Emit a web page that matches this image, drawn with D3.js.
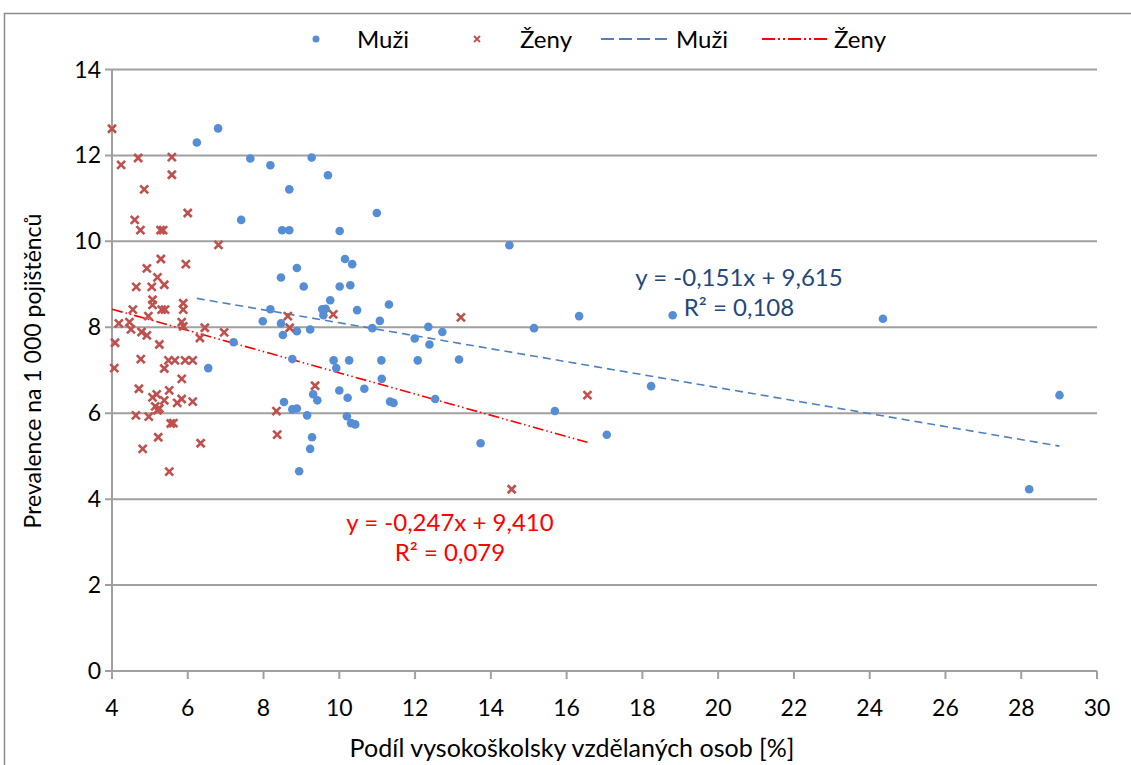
<!DOCTYPE html>
<html>
<head>
<meta charset="utf-8">
<script src="https://cdn.jsdelivr.net/npm/d3@7"></script>
<style>
  body { margin: 0; background: #fff; }
  svg text { font-family: Lato, "Open Sans", sans-serif; }
</style>
</head>
<body>
<svg id="chart" width="1131" height="765"></svg>
<script>
// men: share of university educated [%] and prevalence per 1000
const menX = [6.24, 6.80, 7.65, 8.18, 9.27, 9.70, 8.68, 7.41, 8.49, 8.68, 10.01, 10.99, 10.15, 10.34,
  8.88, 8.46, 9.06, 10.01, 10.29, 9.76, 9.55, 9.64, 9.58, 10.47, 11.31, 8.18, 7.98, 11.07, 8.46,
  8.88, 9.23, 8.51, 10.87, 12.35, 12.72, 11.99, 12.38, 7.21, 6.54, 8.76, 9.85, 10.26, 11.11, 12.07,
  13.16, 9.92, 11.12, 10.66, 10.00, 10.22, 9.31, 9.42, 12.53, 11.34, 11.43, 8.54, 8.76, 8.88, 9.15,
  10.20, 10.31, 10.42, 9.28, 9.23, 8.94, 13.73, 14.49, 16.33, 18.80, 15.14, 18.23, 15.69, 17.06,
  24.35, 29.01, 28.21];
const menY = [12.30, 12.63, 11.93, 11.77, 11.95, 11.54, 11.21, 10.50, 10.26, 10.26, 10.24, 10.66, 9.59, 9.47,
  9.38, 9.16, 8.95, 8.95, 8.98, 8.63, 8.42, 8.43, 8.28, 8.40, 8.53, 8.42, 8.14, 8.15, 8.09,
  7.91, 7.95, 7.82, 7.98, 8.01, 7.89, 7.74, 7.60, 7.65, 7.05, 7.26, 7.23, 7.23, 7.23, 7.23,
  7.25, 7.05, 6.80, 6.57, 6.53, 6.36, 6.44, 6.30, 6.33, 6.27, 6.24, 6.26, 6.09, 6.11, 5.95,
  5.93, 5.77, 5.74, 5.44, 5.17, 4.65, 5.30, 9.91, 8.26, 8.28, 7.98, 6.63, 6.05, 5.50,
  8.20, 6.42, 4.23];

// women
const womenX = [4.00, 4.24, 4.69, 5.58, 5.58, 4.85, 6.00, 4.60, 4.75, 5.28, 5.35, 6.81, 5.29, 4.92,
  5.95, 5.20, 4.64, 5.05, 5.38, 5.07, 5.07, 4.55, 5.31, 5.40, 5.88, 5.88, 4.96, 4.18, 4.46, 4.50,
  4.78, 4.92, 5.84, 5.88, 6.45, 6.96, 6.32, 4.08, 5.25, 4.76, 5.49, 5.66, 5.93, 6.13, 5.38, 4.06,
  5.84, 4.71, 5.51, 5.07, 5.18, 5.38, 5.72, 5.84, 6.13, 5.14, 5.25, 5.20, 4.63, 4.97, 5.55, 5.62,
  5.22, 4.81, 6.34, 5.51, 8.64, 8.69, 9.84, 13.21, 9.36, 8.34, 8.36, 16.55, 14.55];
const womenY = [12.62, 11.78, 11.94, 11.96, 11.55, 11.21, 10.66, 10.50, 10.26, 10.26, 10.26, 9.92, 9.59, 9.37,
  9.47, 9.16, 8.94, 8.94, 8.99, 8.64, 8.52, 8.41, 8.41, 8.41, 8.56, 8.41, 8.26, 8.09, 8.12, 7.95,
  7.89, 7.81, 8.12, 8.02, 7.99, 7.88, 7.75, 7.64, 7.60, 7.26, 7.23, 7.23, 7.23, 7.23, 7.04, 7.05,
  6.80, 6.57, 6.53, 6.37, 6.44, 6.30, 6.24, 6.33, 6.27, 6.16, 6.11, 6.07, 5.95, 5.92, 5.76, 5.77,
  5.44, 5.17, 5.30, 4.64, 8.26, 7.99, 8.30, 8.23, 6.64, 6.05, 5.50, 6.42, 4.23];

// linear trends (slope, intercept) and their labels
const trendSlope = [-0.151, -0.247];
const trendIntercept = [9.615, 9.410];
const trendEq = ["y = -0,151x + 9,615", "y = -0,247x + 9,410"];
const trendR2 = ["R² = 0,108", "R² = 0,079"];

const seriesNames = ["Muži", "Ženy"];
const xTicks = d3.range(4, 31, 2);
const yTicks = d3.range(0, 15, 2);

const BLUE = "#558ED5", RED = "#C0504D";

const svg = d3.select("#chart");
const plotL = 112, plotR = 1097, plotT = 69.5, plotB = 671;

const x = d3.scaleLinear().domain([4, 30]).range([plotL, plotR]);
const y = d3.scaleLinear().domain([0, 14]).range([plotB, plotT]);

// outer frame
svg.append("rect")
  .attr("x", 4.5).attr("y", 13.5).attr("width", 1140).attr("height", 800)
  .attr("fill", "none").attr("stroke", "#8c8c8c").attr("stroke-width", 1.5);

// gridlines
svg.append("g").selectAll("line").data(yTicks).join("line")
  .attr("x1", plotL - 7).attr("x2", plotR)
  .attr("y1", d => y(d)).attr("y2", d => y(d))
  .attr("stroke", "#a0a0a0").attr("stroke-width", 2);

// y axis line + labels
svg.append("line").attr("x1", plotL).attr("x2", plotL).attr("y1", plotT).attr("y2", plotB + 8)
  .attr("stroke", "#a0a0a0").attr("stroke-width", 2);
svg.append("g").selectAll("text").data(yTicks).join("text")
  .attr("x", plotL - 11).attr("y", d => y(d) + 8)
  .attr("text-anchor", "end").attr("font-size", 23).attr("fill", "#000")
  .text(d => d);

// x ticks + labels
svg.append("g").selectAll("line").data(xTicks).join("line")
  .attr("x1", d => x(d)).attr("x2", d => x(d))
  .attr("y1", plotB).attr("y2", plotB + 8)
  .attr("stroke", "#a0a0a0").attr("stroke-width", 2);
svg.append("g").selectAll("text").data(xTicks).join("text")
  .attr("x", d => x(d)).attr("y", plotB + 45)
  .attr("text-anchor", "middle").attr("font-size", 23).attr("fill", "#000")
  .text(d => d);

// axis titles
svg.append("text").attr("x", 572).attr("y", 757)
  .attr("text-anchor", "middle").attr("font-size", 25)
  .text("Podíl vysokoškolsky vzdělaných osob [%]");
svg.append("text")
  .attr("transform", "translate(41,371) rotate(-90)")
  .attr("text-anchor", "middle").attr("font-size", 23)
  .text("Prevalence na 1 000 pojištěnců");

// trend lines
const trendColors = ["#4F81BD", "#FF0000"];
const trendDash = ["8,5", "11,3,1.5,3,1.5,3"];
const ranges = [d3.extent(menX), d3.extent(womenX)];
[0, 1].forEach(i => {
  const [a, b] = ranges[i];
  svg.append("line")
    .attr("x1", x(a)).attr("y1", y(trendSlope[i] * a + trendIntercept[i]))
    .attr("x2", x(b)).attr("y2", y(trendSlope[i] * b + trendIntercept[i]))
    .attr("stroke", trendColors[i]).attr("stroke-width", 1.6)
    .attr("stroke-dasharray", trendDash[i]);
});

// men dots
svg.append("g").selectAll("circle").data(menX).join("circle")
  .attr("cx", d => x(d)).attr("cy", (d, i) => y(menY[i]))
  .attr("r", 4.3).attr("fill", BLUE);

// women crosses
function cross(sel, s, w) {
  sel.append("path")
    .attr("d", `M${-s},${-s}L${s},${s}M${-s},${s}L${s},${-s}`)
    .attr("stroke", RED).attr("stroke-width", w).attr("fill", "none");
}
svg.append("g").selectAll("g").data(womenX).join("g")
  .attr("transform", (d, i) => `translate(${x(d)},${y(womenY[i])})`)
  .call(cross, 4, 2.6);

// equations
const eqPos = [[739, 286], [450, 531]];
const eqColor = ["#1F497D", "#FF0000"];
[0, 1].forEach(i => {
  const t = svg.append("text").attr("text-anchor", "middle")
    .attr("font-size", 24).attr("fill", eqColor[i]);
  t.append("tspan").attr("x", eqPos[i][0]).attr("y", eqPos[i][1]).text(trendEq[i]);
  t.append("tspan").attr("x", eqPos[i][0]).attr("y", eqPos[i][1] + 30).text(trendR2[i]);
});

// legend
const lg = svg.append("g").attr("font-size", 24);
lg.append("circle").attr("cx", 316).attr("cy", 39).attr("r", 3.5).attr("fill", BLUE);
lg.append("text").attr("x", 357).attr("y", 48).text(seriesNames[0]);
lg.append("g").attr("transform", "translate(477,39)").call(cross, 3, 1.8);
lg.append("text").attr("x", 520).attr("y", 48).text(seriesNames[1]);
lg.append("line").attr("x1", 601).attr("x2", 667).attr("y1", 39).attr("y2", 39)
  .attr("stroke", trendColors[0]).attr("stroke-width", 2).attr("stroke-dasharray", "13,5");
lg.append("text").attr("x", 676).attr("y", 48).text(seriesNames[0]);
lg.append("line").attr("x1", 762).attr("x2", 830).attr("y1", 39).attr("y2", 39)
  .attr("stroke", trendColors[1]).attr("stroke-width", 2).attr("stroke-dasharray", "13,3,2,3,2,3");
lg.append("text").attr("x", 834).attr("y", 48).text(seriesNames[1]);
</script>
</body>
</html>
